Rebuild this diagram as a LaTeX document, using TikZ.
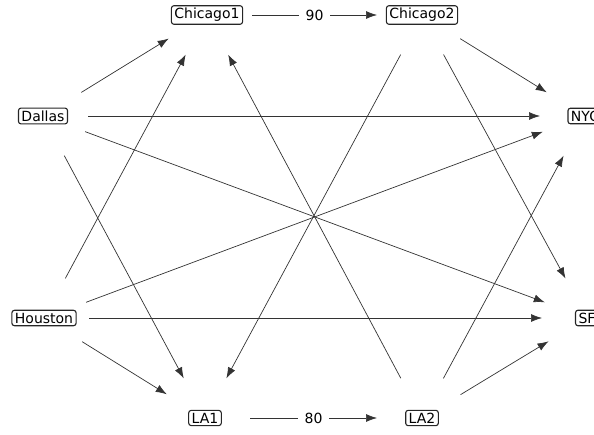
\documentclass[tikz,border=0pt]{standalone}
\usepackage{fontspec}
\setmainfont{DejaVu Sans}
\usetikzlibrary{arrows.meta}
\begin{document}
\begin{tikzpicture}[x=1pt,y=-1pt,
  city/.style={draw=black!85,fill=white,rounded corners=2.5pt,line width=1.1pt,inner xsep=3pt,inner ysep=2.5pt,font=\fontsize{14}{16}\selectfont},
  edge/.style={draw=black!80,line width=0.7pt,shorten <=45pt,shorten >=45pt,-{Latex[length=11pt,width=8pt]}},
  wlabel/.style={fill=white,inner xsep=7pt,inner ysep=2pt,font=\fontsize{14}{16}\selectfont}]
\useasboundingbox (0,0) rectangle (594,435);
\clip (0,0) rectangle (594,435);
\node[city] (c1) at (207,15) {Chicago1};
\node[city] (c2) at (422,15) {Chicago2};
\node[city] (d) at (43,116) {Dallas};
\node[city] (nyc) at (585,116) {NYC};
\node[city] (h) at (44,318) {Houston};
\node[city] (sf) at (587,318) {SF};
\node[city] (la1) at (205,418) {LA1};
\node[city] (la2) at (422,418) {LA2};
\draw[edge] (d.center) -- (c1.center);
\draw[edge] (d.center) -- (nyc.center);
\draw[edge] (d.center) -- (sf.center);
\draw[edge] (d.center) -- (la1.center);
\draw[edge] (h.center) -- (c1.center);
\draw[edge] (h.center) -- (nyc.center);
\draw[edge] (h.center) -- (sf.center);
\draw[edge] (h.center) -- (la1.center);
\draw[edge] (c2.center) -- (nyc.center);
\draw[edge] (c2.center) -- (la1.center);
\draw[edge] (c2.center) -- (sf.center);
\draw[edge] (la2.center) -- (c1.center);
\draw[edge] (la2.center) -- (nyc.center);
\draw[edge] (la2.center) -- (sf.center);
\draw[edge] (c1.center) -- node[wlabel] (l90) {90} (c2.center);
\draw[edge] (la1.center) -- node[wlabel] (l80) {80} (la2.center);
\end{tikzpicture}
\end{document}
